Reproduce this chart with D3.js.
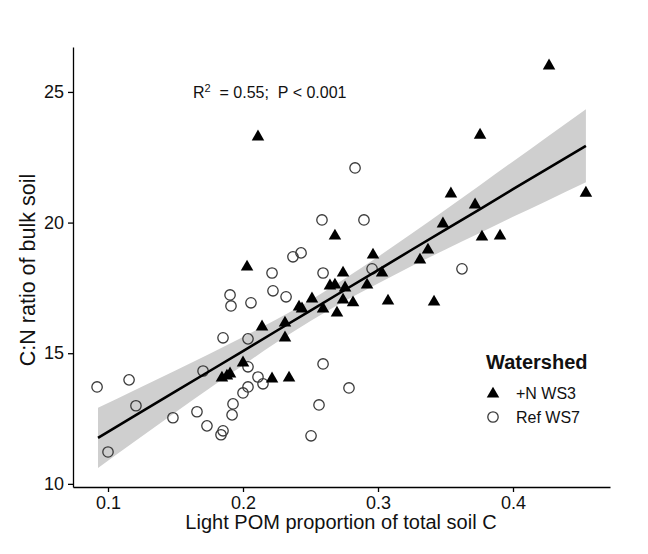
<!DOCTYPE html>
<html><head><meta charset="utf-8">
<script src="https://cdn.jsdelivr.net/npm/d3@7"></script>
<style>body{margin:0;background:#fff} text{font-family:"Liberation Sans",Arial,sans-serif;}</style>
</head><body><svg id="c" width="648" height="554"></svg>
<script>
// +N WS3 (filled triangles)
const ws3X = [0.4267,0.2111,0.3756,0.3540,0.4540,0.3719,0.3481,0.3770,0.3904,0.2681,0.3370,0.3311,0.2030,0.2963,0.2741,0.3030,0.2919,0.2644,0.2681,0.2756,0.2511,0.2741,0.2815,0.3074,0.3415,0.2415,0.2437,0.2593,0.2696,0.2141,0.2311,0.2311,0.2000,0.1844,0.1881,0.1904,0.2215,0.2341];
const ws3Y = [26.04,23.32,23.39,21.14,21.17,20.72,19.99,19.49,19.53,19.53,18.99,18.61,18.34,18.80,18.11,18.11,17.65,17.62,17.65,17.54,17.12,17.08,16.97,17.04,17.00,16.81,16.74,16.74,16.58,16.05,16.20,15.63,14.67,14.09,14.17,14.25,14.06,14.09];
// Ref WS7 (open circles)
const ws7X = [0.2830,0.2585,0.2896,0.2370,0.2430,0.2215,0.2593,0.2956,0.3622,0.1904,0.1911,0.2059,0.2222,0.2319,0.1852,0.2037,0.0919,0.1156,0.1207,0.1000,0.1481,0.1659,0.1733,0.1852,0.1837,0.1919,0.1926,0.2000,0.2037,0.2037,0.2111,0.2148,0.1704,0.2593,0.2563,0.2504,0.2785];
const ws7Y = [22.09,20.10,20.10,18.69,18.84,18.07,18.07,18.23,18.23,17.23,16.81,16.93,17.39,17.16,15.59,15.55,13.71,13.98,12.99,11.22,12.53,12.76,12.22,12.03,11.88,12.64,13.06,13.48,13.71,14.48,14.09,13.83,14.32,14.59,13.02,11.84,13.67];
// fitted line and confidence band
const fitX  = [0.0926,0.12,0.15,0.175,0.2,0.225,0.25,0.275,0.3,0.325,0.35,0.375,0.4,0.425,0.454];
const fitY  = [11.76,12.61,13.54,14.31,15.08,15.86,16.63,17.41,18.18,18.96,19.73,20.50,21.28,22.05,22.94];
const fitLo = [10.61,11.63,12.74,13.65,14.54,15.42,16.23,16.99,17.67,18.34,18.97,19.59,20.22,20.83,21.54];
const fitHi = [12.91,13.59,14.34,14.97,15.62,16.30,17.03,17.84,18.69,19.58,20.49,21.41,22.34,23.27,24.34];
const xTicks = [0.1,0.2,0.3,0.4];
const yTicks = [10,15,20,25];
const seriesNames = ["+N WS3","Ref WS7"];

const svg = d3.select("#c");
const x = d3.scaleLinear().domain([0.07407,0.47185]).range([73,610]);
const y = d3.scaleLinear().domain([9.88,26.72]).range([487,47]);

// band
const band = fitX.map((v,i)=>({x:v,lo:fitLo[i],hi:fitHi[i],f:fitY[i]}));
svg.append("path").datum(band)
  .attr("d", d3.area().x(d=>x(d.x)).y0(d=>y(d.lo)).y1(d=>y(d.hi)).curve(d3.curveMonotoneX))
  .attr("fill","#cfcfcf");

// circles
svg.append("g").selectAll("circle").data(ws7X.map((v,i)=>[v,ws7Y[i]])).join("circle")
  .attr("cx",d=>x(d[0])).attr("cy",d=>y(d[1])).attr("r",5.2)
  .attr("fill","none").attr("stroke","#3a3a3a").attr("stroke-width",1.3);

// triangles
const tri = d3.symbol(d3.symbolTriangle, 68);
svg.append("g").selectAll("path").data(ws3X.map((v,i)=>[v,ws3Y[i]])).join("path")
  .attr("d", tri).attr("transform",d=>`translate(${x(d[0])},${y(d[1])+1})`).attr("fill","#000");

// fit line
svg.append("path").datum(band)
  .attr("d", d3.line().x(d=>x(d.x)).y(d=>y(d.f)))
  .attr("fill","none").attr("stroke","#000").attr("stroke-width",2.6);

// axes
const gx = svg.append("g").attr("transform","translate(0,487)")
  .call(d3.axisBottom(x).tickValues(xTicks).tickSize(5).tickSizeOuter(0).tickPadding(4).tickFormat(d3.format(".1f")));
const gy = svg.append("g").attr("transform","translate(73,0)")
  .call(d3.axisLeft(y).tickValues(yTicks).tickSize(5).tickSizeOuter(0).tickPadding(4));
[gx,gy].forEach(g=>{
  g.selectAll("path,line").attr("stroke","#000").attr("stroke-width",1.3);
  g.selectAll("text").attr("font-size",18).attr("fill","#111").style("font-family",'"Liberation Sans",Arial,sans-serif');
});

// axis titles
svg.append("text").attr("x",341).attr("y",529).attr("text-anchor","middle")
  .attr("font-size",20).attr("fill","#111").text("Light POM proportion of total soil C");
svg.append("text").attr("transform","translate(35,270) rotate(-90)").attr("text-anchor","middle")
  .attr("font-size",21.5).attr("fill","#111").text("C:N ratio of bulk soil");

// annotation
const ann = svg.append("text").attr("x",193).attr("y",98).attr("font-size",16).attr("fill","#111").style("white-space","pre");
ann.append("tspan").text("R");
ann.append("tspan").attr("dy",-6).attr("font-size",11).text("2");
ann.append("tspan").attr("dy",6).text("  = 0.55;  P < 0.001");

// legend
svg.append("text").attr("x",486).attr("y",369).attr("font-size",20).attr("font-weight","bold").attr("fill","#111").text("Watershed");
svg.append("path").attr("d",tri).attr("transform","translate(493,394)").attr("fill","#000");
svg.append("circle").attr("cx",493).attr("cy",417).attr("r",5.2).attr("fill","none").attr("stroke","#3a3a3a").attr("stroke-width",1.3);
svg.append("text").attr("x",516).attr("y",399).attr("font-size",16).attr("fill","#111").text(seriesNames[0]);
svg.append("text").attr("x",516).attr("y",423).attr("font-size",16).attr("fill","#111").text(seriesNames[1]);
</script></body></html>
